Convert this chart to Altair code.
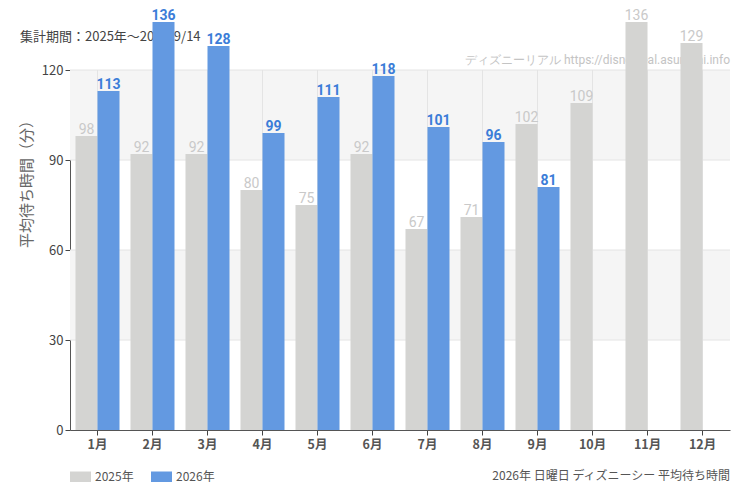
import altair as alt
import pandas as pd

months = ["1月", "2月", "3月", "4月", "5月", "6月", "7月", "8月", "9月", "10月", "11月", "12月"]
v2025 = [98, 92, 92, 80, 75, 92, 67, 71, 102, 109, 136, 129]
v2026 = [113, 136, 128, 99, 111, 118, 101, 96, 81, None, None, None]
years = ["2025年", "2026年"]
band_lo = [90, 30]
band_hi = [120, 60]
grid_y = [30, 60, 90, 120]
y_ticks = [0, 30, 60, 90, 120]

rows = []
for m, a, b in zip(months, v2025, v2026):
    rows.append({"month": m, "year": years[0], "value": a})
    if b is not None:
        rows.append({"month": m, "year": years[1], "value": b})
df = pd.DataFrame(rows)
bands = pd.DataFrame({"lo": band_lo, "hi": band_hi})
gy = pd.DataFrame({"g": grid_y})
gx = pd.DataFrame({"month": months})

JP = "Noto Sans CJK JP"
NARROW = "Roboto, sans-serif"
W, H = 660, 360

xscale = alt.Scale(domain=months, paddingInner=0.2, paddingOuter=0.1)
yscale = alt.Scale(domain=[0, 120])
offscale = alt.Scale(domain=years, paddingInner=0, paddingOuter=0)

xaxis = alt.Axis(title=None, labelAngle=0, grid=False, domainColor="#555", tickColor="#444",
                 tickSize=5, labelPadding=3, labelFontSize=12.5, labelColor="#555",
                 labelFont=JP, labelFontWeight="bold")
yaxis = alt.Axis(title="平均待ち時間（分）", values=y_ticks, grid=False, domainColor="#555",
                 tickColor="#444", tickSize=5, labelPadding=2, labelFontSize=13,
                 labelColor="#444", labelFont=JP, titleFont=JP, titleFontSize=15,
                 titleFontWeight="normal", titleColor="#666", titleAngle=270,
                 titleX=-44, titleY=110, titleAlign="center", titleBaseline="middle")

band_layer = alt.Chart(bands).mark_rect(color="#f5f5f5").encode(
    x=alt.value(0), x2=alt.value(W),
    y=alt.Y("lo:Q", scale=yscale, axis=yaxis), y2="hi:Q",
)

hgrid = alt.Chart(gy).mark_rule(color="#e4e4e4", strokeWidth=1).encode(
    y=alt.Y("g:Q", scale=yscale, axis=yaxis),
)
vgrid = alt.Chart(gx).mark_rule(color="#e4e4e4", strokeWidth=1).encode(
    x=alt.X("month:N", scale=xscale, axis=xaxis),
    y=alt.value(0), y2=alt.value(H),
)

color_scale = alt.Scale(domain=years, range=["#d4d4d2", "#6399e1"])

bars = alt.Chart(df).mark_bar().encode(
    x=alt.X("month:N", scale=xscale, axis=xaxis),
    xOffset=alt.XOffset("year:N", scale=offscale),
    y=alt.Y("value:Q", scale=yscale, axis=yaxis),
    color=alt.Color("year:N", scale=color_scale, legend=alt.Legend(
        title=None, orient="none", legendX=0, legendY=396, direction="horizontal",
        symbolType="M-1,-0.5H1V0.5H-1Z", symbolSize=441, symbolStrokeWidth=0,
        symbolOpacity=1, labelFont=JP, labelFontSize=12, labelColor="#555",
        labelOffset=4, columnPadding=17)),
)

def label_layer(year, col, weight):
    return alt.Chart(df).transform_filter(alt.datum.year == year).mark_text(
        baseline="alphabetic", dy=-2, font=NARROW, fontSize=14, color=col, fontWeight=weight
    ).encode(
        x=alt.X("month:N", scale=xscale, axis=xaxis),
        xOffset=alt.XOffset("year:N", scale=offscale),
        y=alt.Y("value:Q", scale=yscale, axis=yaxis),
        text=alt.Text("value:Q"),
    )

lab25 = label_layer(years[0], "#c9c9c9", "normal")
lab26 = label_layer(years[1], "#3b7dd8", "bold")

notes = pd.DataFrame({"t": ["集計期間：2025年〜2026/9/14"]})
title_txt = alt.Chart(notes).mark_text(align="left", baseline="middle", font=JP, fontSize=13,
                                       color="#444").encode(
    x=alt.value(-50), y=alt.value(-33), text="t:N")

wm = pd.DataFrame({"t": ["ディズニーリアル https://disneyreal.asumirai.info"]})
wm_txt = alt.Chart(wm).mark_text(align="right", baseline="middle", font=NARROW, fontSize=12,
                                 color="#c4c4c4").encode(
    x=alt.value(W), y=alt.value(-10), text="t:N")

foot = pd.DataFrame({"t": ["2026年 日曜日 ディズニーシー 平均待ち時間"]})
foot_txt = alt.Chart(foot).mark_text(align="right", baseline="middle", font=JP, fontSize=12,
                                     color="#555").encode(
    x=alt.value(W), y=alt.value(406), text="t:N")

chart = alt.layer(band_layer, hgrid, vgrid, title_txt, wm_txt, bars, lab25, lab26, foot_txt).properties(
    width=W, height=H,
    autosize=alt.AutoSizeParams(type="none"),
    padding={"left": 62, "top": 62, "right": 12, "bottom": 60},
    background="#ffffff",
).configure_view(stroke=None)

chart.save("out.html", embed_options={"renderer": "svg", "actions": False})
